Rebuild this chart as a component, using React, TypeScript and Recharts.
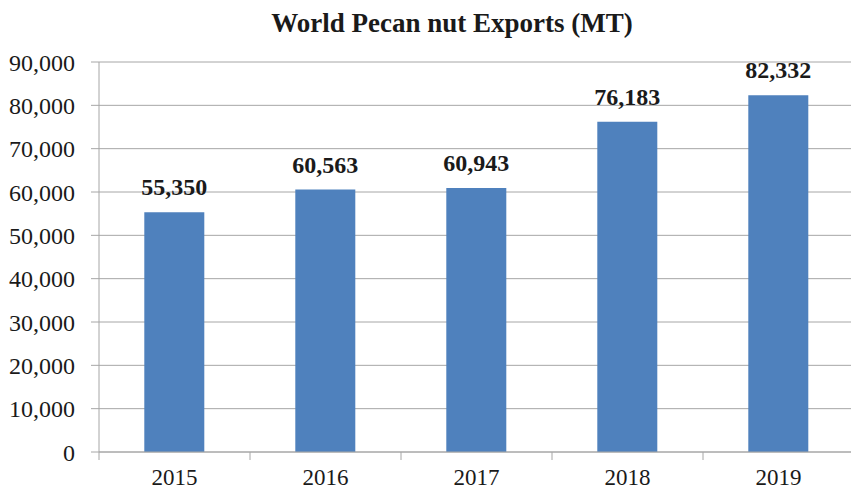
import React from 'react';
import { BarChart, Bar, XAxis, YAxis, CartesianGrid, LabelList } from 'recharts';

const years = ['2015', '2016', '2017', '2018', '2019'];
const exportsMT = [55350, 60563, 60943, 76183, 82332];
const yTicks = [0, 10000, 20000, 30000, 40000, 50000, 60000, 70000, 80000, 90000];

const data = years.map((year, i) => ({ year, value: exportsMT[i] }));

const fmt = (v: number) => Number(v).toLocaleString('en-US');
const FONT = '"Liberation Serif", "Times New Roman", serif';
const GRID = '#a6a6a6';

const YearTick = (props: any) => {
  const { x, y, payload, index } = props;
  const half = payload && payload.offset ? payload.offset : 0;
  return (
    <g>
      <line x1={x - half} y1={y - 8} x2={x - half} y2={y} stroke={GRID} strokeWidth={1} />
      {index === years.length - 1 && (
        <line x1={x + half} y1={y - 8} x2={x + half} y2={y} stroke={GRID} strokeWidth={1} />
      )}
      <text x={x} y={y + 25} textAnchor="middle" fill="#1a1a1a" fontSize={23} fontFamily={FONT}>
        {payload.value}
      </text>
    </g>
  );
};

const App = () => {
  return (
    <div style={{ position: 'absolute', left: 0, top: 0, width: 851, height: 491, overflow: 'hidden', background: '#fff' }}>
      <div
        style={{
          position: 'absolute',
          left: 0,
          width: 904,
          top: 8,
          textAlign: 'center',
          fontFamily: FONT,
          fontWeight: 'bold',
          fontSize: 27,
          color: '#1a1a1a',
        }}
      >
        World Pecan nut Exports (MT)
      </div>
      <BarChart
        width={854}
        height={491}
        data={data}
        margin={{ top: 62, right: 0, bottom: 0, left: 0 }}
        barCategoryGap="30%"
      >
        <CartesianGrid vertical={false} stroke={GRID} strokeWidth={1} />
        <XAxis
          dataKey="year"
          height={39}
          stroke={GRID}
          tickLine={false}
          tick={<YearTick />}
          interval={0}
        />
        <YAxis
          width={99}
          domain={[0, 90000]}
          ticks={yTicks}
          interval={0}
          tickFormatter={fmt}
          stroke={GRID}
          tickSize={8}
          tickMargin={16}
          tick={{ fill: '#1a1a1a', fontSize: 24, fontFamily: FONT }}
        />
        <Bar dataKey="value" fill="#4f81bd" isAnimationActive={false}>
          <LabelList
            dataKey="value"
            position="top"
            offset={17}
            formatter={fmt}
            style={{ fill: '#1a1a1a', fontSize: 24, fontWeight: 'bold', fontFamily: FONT }}
          />
        </Bar>
      </BarChart>
    </div>
  );
};

export default App;
